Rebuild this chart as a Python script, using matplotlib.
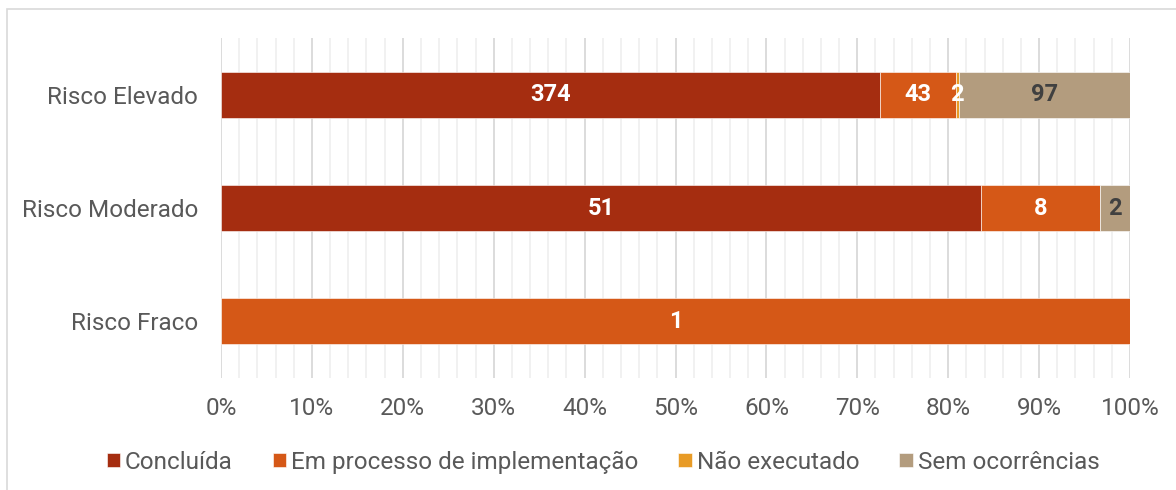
import numpy as np
import matplotlib.pyplot as plt
from matplotlib.patches import Rectangle

plt.rcParams['font.family'] = ['Roboto', 'DejaVu Sans']

categorias = ['Risco Elevado', 'Risco Moderado', 'Risco Fraco']
series = ['Concluída', 'Em processo de implementação', 'Não executado', 'Sem ocorrências']
concluida = [374, 51, 0]
em_processo = [43, 8, 1]
nao_executado = [2, 0, 0]
sem_ocorrencias = [97, 2, 0]
cores = ['#A52D10', '#D55817', '#E89B26', '#B39C7E']
cor_rotulo = ['white', 'white', 'white', '#404040']

dados = np.array([concluida, em_processo, nao_executado, sem_ocorrencias], dtype=float)
totais = dados.sum(axis=0)
pct = dados / totais * 100

fig = plt.figure(figsize=(11.76, 4.9), dpi=100)
ax = fig.add_axes([221 / 1176, 1 - 378 / 490, (1130 - 221) / 1176, 340 / 490])

# moldura
fig.patches.append(Rectangle((7 / 1176, -0.1), 1.2, 1 - 9 / 490 + 0.1, transform=fig.transFigure,
                             fill=False, edgecolor='#D9D9D9', linewidth=1.2, zorder=0))

y = np.arange(len(categorias))
esquerda = np.zeros(len(categorias))
for i, nome in enumerate(series):
    ax.barh(y, pct[i], left=esquerda, height=0.405, color=cores[i], label=nome,
            edgecolor='white', linewidth=0.4, zorder=3)
    for j in range(len(categorias)):
        if dados[i, j] > 0:
            ax.text(esquerda[j] + pct[i, j] / 2, y[j], f'{int(dados[i, j])}', ha='center', va='center',
                    color=cor_rotulo[i], fontsize=17, fontweight='bold', zorder=4)
    esquerda += pct[i]

ax.set_xlim(0, 100)
ax.set_ylim(2.5, -0.5)
ax.set_yticks(y)
ax.set_yticklabels(categorias)
ax.set_xticks(np.arange(0, 101, 10))
ax.set_xticklabels([f'{v}%' for v in range(0, 101, 10)])
ax.set_xticks(np.arange(0, 101, 2), minor=True)
ax.grid(axis='x', which='major', color='#D9D9D9', linewidth=1.3, zorder=0)
ax.grid(axis='x', which='minor', color='#EEEEEE', linewidth=1.1, zorder=0)
ax.tick_params(axis='both', which='both', length=0, labelsize=17.5, labelcolor='#595959')
ax.tick_params(axis='y', pad=16.5)
ax.tick_params(axis='x', pad=14)
for s in ax.spines.values():
    s.set_visible(False)

fig.legend(loc='center', bbox_to_anchor=(603 / 1176, 1 - 462 / 490), ncol=4, frameon=False,
           fontsize=17.5, labelcolor='#595959', handlelength=0.55, handleheight=0.55,
           handletextpad=0.2, columnspacing=1.65)

fig.savefig('out.png', dpi=100)
